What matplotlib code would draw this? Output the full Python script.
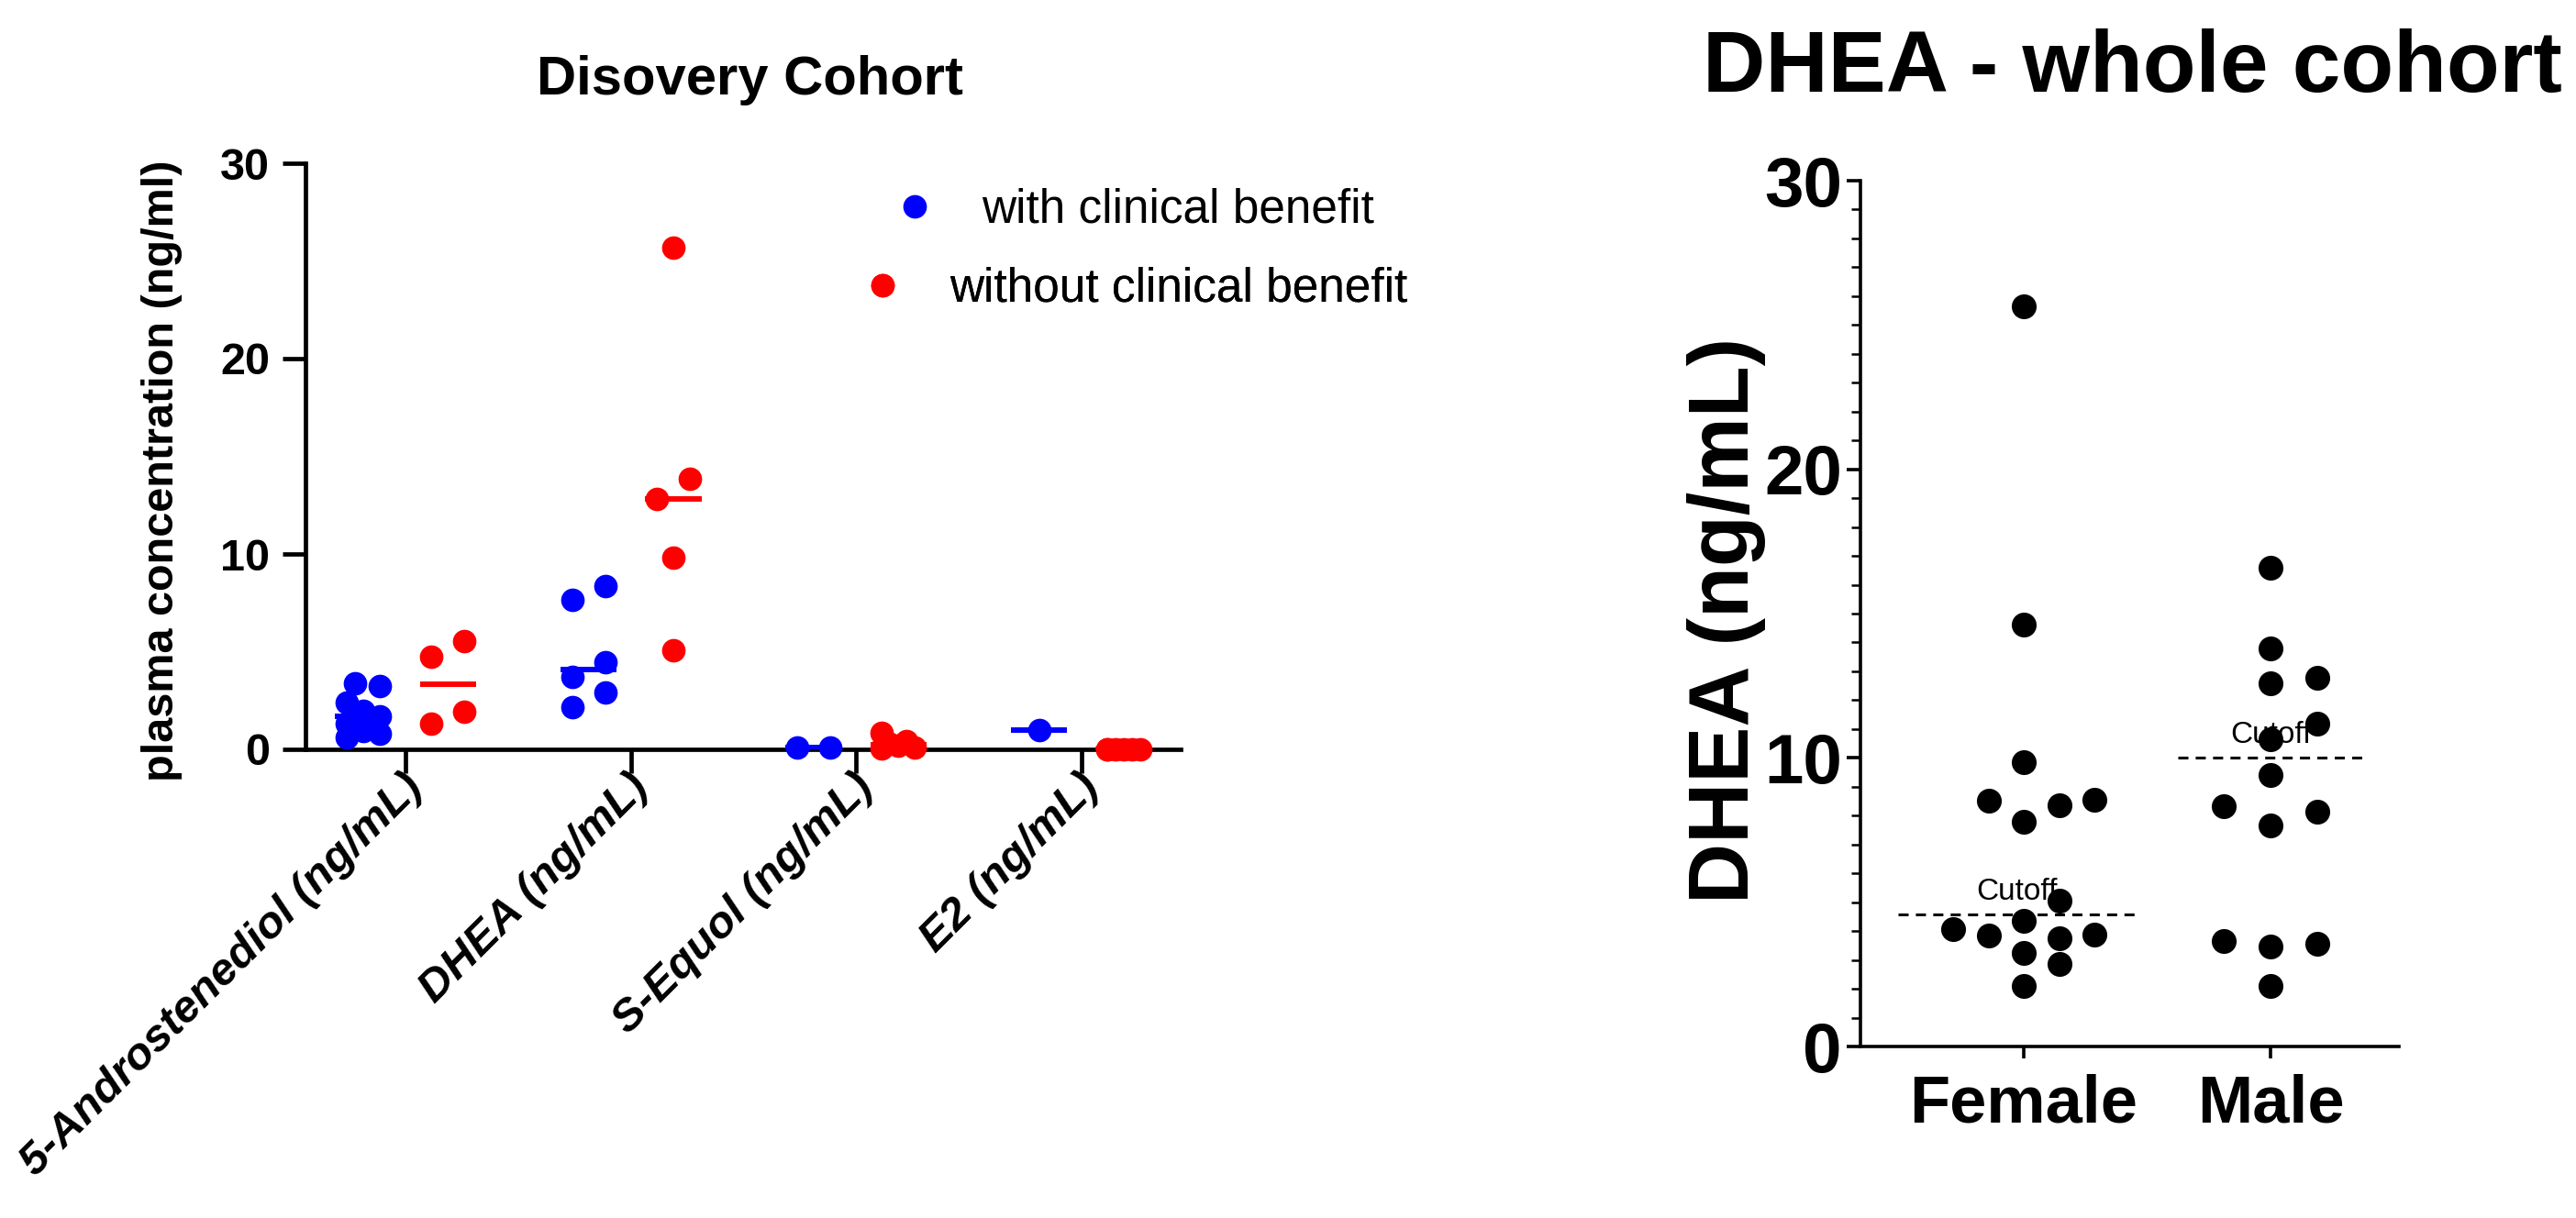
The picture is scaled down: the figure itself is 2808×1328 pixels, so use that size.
import matplotlib
matplotlib.use("Agg")
import matplotlib.pyplot as plt
import numpy as np
from matplotlib.lines import Line2D
from matplotlib.ticker import MultipleLocator
from matplotlib.transforms import ScaledTranslation

plt.rcParams['font.family'] = ['Liberation Sans', 'DejaVu Sans']

# ---------------- data ----------------
categories = ["5-Androstenediol (ng/mL)", "DHEA (ng/mL)", "S-Equol (ng/mL)", "E2 (ng/mL)"]
andro_with = [0.62, 0.78, 0.95, 1.3, 1.7, 1.95, 2.4, 3.25, 3.4]
andro_without = [1.31, 1.94, 4.75, 5.56]
dhea_with = [2.14, 2.91, 3.69, 4.44, 7.67, 8.34]
dhea_without = [5.06, 9.83, 12.83, 13.83, 25.66]
equol_with = [0.08, 0.08]
equol_without = [0.05, 0.1, 0.18, 0.28, 0.42, 0.85]
e2_with = [0.97]
e2_without = [0.02, 0.02, 0.02, 0.02, 0.02, 0.02]
with_benefit = [andro_with, dhea_with, equol_with, e2_with]
without_benefit = [andro_without, dhea_without, equol_without, e2_without]
legend_labels = ["with clinical benefit", "without clinical benefit"]

sex_groups = ["Female", "Male"]
dhea_female = [25.66, 14.61, 9.84, 8.52, 8.55, 8.36, 7.78, 5.06, 4.36, 3.74, 3.85,
               4.07, 3.87, 3.25, 2.86, 2.09]
dhea_male = [16.6, 13.80, 12.57, 12.79, 11.19, 10.66, 9.41, 8.33, 8.15, 7.65, 3.64,
             3.45, 3.56, 2.11]
cutoffs = [4.58, 10.0]
cutoff_label = "Cutoff"

# ---------------- figure ----------------
W, H, DPI = 2808, 1328, 100
fig = plt.figure(figsize=(W / DPI, H / DPI), dpi=DPI)
fig.patch.set_facecolor("white")


def rect(l, t, r, b):
    return [l / W, 1 - b / H, (r - l) / W, (b - t) / H]


def swarm(ax, values, lane_px, diam_px, candidates, center):
    """Prism-like horizontal spreading of overlapping points (returns x offsets in data units)."""
    values = np.asarray(values, float)
    t = ax.transData
    px_x = t.transform((1, 0))[0] - t.transform((0, 0))[0]
    px_y = t.transform((0, 1))[1] - t.transform((0, 0))[1]
    order = np.argsort(values, kind="stable")
    lanes = np.zeros(len(values))
    chains, cur = [], []
    for idx in order:
        if cur and (values[idx] - values[cur[-1]]) * px_y >= diam_px:
            chains.append(cur)
            cur = []
        cur.append(idx)
    if cur:
        chains.append(cur)
    for chain in chains:
        placed = []
        for idx in chain:
            y = values[idx] * px_y
            best, best_d = None, -1
            for c in candidates:
                dmin = min([np.hypot((c - l) * lane_px, y - yy) for l, yy in placed] or [1e9])
                if dmin >= diam_px:
                    best = c
                    break
                if dmin > best_d + 1e-9:
                    best, best_d = c, dmin
            lanes[idx] = best
            placed.append((best, y))
        if center:
            ls = lanes[chain]
            lanes[chain] = ls - (ls.min() + ls.max()) / 2
    return lanes * lane_px / px_x


BLUE, RED = "#0000FF", "#FF0000"

# ---------------- left panel ----------------
ax1 = fig.add_axes(rect(333, 178, 1287, 817))
ax1.set_xlim(-0.444, 3.44)
ax1.set_ylim(0, 30)
for s in ["top", "right"]:
    ax1.spines[s].set_visible(False)
for s in ["left", "bottom"]:
    ax1.spines[s].set_linewidth(3.4)

GROUP_OFF = 0.188
for i in range(len(categories)):
    for vals, col, side in [(with_benefit[i], BLUE, -1), (without_benefit[i], RED, 1)]:
        xc = i + side * GROUP_OFF
        offs = swarm(ax1, vals, 36, 25, [0, 1, 0.5, 0.25, 0.75], True)
        ax1.scatter(xc + offs, vals, s=18.5 ** 2, color=col, linewidths=0,
                    clip_on=False, zorder=3)
        ax1.hlines(np.median(vals), xc - 0.125, xc + 0.125, colors=col, lw=4.3, zorder=4)

ax1.set_yticks([0, 10, 20, 30])
ax1.tick_params(axis="y", length=18, width=3.4, pad=10, labelsize=35)
ax1.set_xticks(range(len(categories)))
ax1.set_xticklabels(categories, rotation=45, ha="right", va="top", fontsize=35.5,
                    fontweight="bold", fontstyle="italic")
ax1.tick_params(axis="x", length=19, width=3.4, pad=0)
for lab in ax1.get_yticklabels():
    lab.set_fontweight("bold")
for lab in ax1.get_xticklabels():
    lab.set_transform(lab.get_transform() +
                      ScaledTranslation(28 / DPI, 8 / DPI, fig.dpi_scale_trans))
ax1.set_ylabel("plasma concentration (ng/ml)", fontsize=35, fontweight="bold")
ax1.yaxis.set_label_coords(-0.1405, 0.475)

fig.text(817 / W, 1 - 103 / H, "Disovery Cohort", ha="center", va="baseline",
         fontsize=43, fontweight="bold")

for lab, col, yy in [(legend_labels[0], BLUE, 229), (legend_labels[1], RED, 315)]:
    h = Line2D([], [], marker="o", ls="none", color=col, markersize=18.5, markeredgewidth=0)
    leg = ax1.legend([h], [lab], loc="center", bbox_to_anchor=(1235 / W, 1 - yy / H),
                     bbox_transform=fig.transFigure, frameon=False, fontsize=37,
                     handlelength=1.0, handletextpad=0.92, borderpad=0, borderaxespad=0)
    ax1.add_artist(leg)

# ---------------- right panel ----------------
ax2 = fig.add_axes(rect(2028, 197, 2615, 1141))
ax2.set_xlim(-0.662, 1.52)
ax2.set_ylim(0, 30)
for s in ["top", "right"]:
    ax2.spines[s].set_visible(False)
for s in ["left", "bottom"]:
    ax2.spines[s].set_linewidth(2.6)

lane_px = [38.5, 51]
line_center = [-0.03, 0.0]
line_half = [0.478, 0.374]
for i, vals in enumerate([dhea_female, dhea_male]):
    offs = swarm(ax2, vals, lane_px[i], 26, [0, 1, -1, 2, -2], False)
    ax2.scatter(i + offs, vals, s=19.5 ** 2, color="black", linewidths=0,
                clip_on=False, zorder=3)
    xc = i + line_center[i]
    ax2.hlines(cutoffs[i], xc - line_half[i], xc + line_half[i], colors="black",
               linestyles=(0, (3.6, 2.6)), lw=2.2, zorder=2)
    ax2.annotate(cutoff_label, (xc, cutoffs[i]), xytext=(0, 11.5), textcoords="offset points",
                 ha="center", va="baseline", fontsize=24, zorder=1)

ax2.set_yticks([0, 10, 20, 30])
ax2.yaxis.set_minor_locator(MultipleLocator(1))
ax2.tick_params(axis="y", which="major", length=10.8, width=2.6, pad=3.6, labelsize=55)
ax2.tick_params(axis="y", which="minor", length=7.2, width=1.8)
ax2.set_xticks(range(len(sex_groups)))
ax2.set_xticklabels(sex_groups, fontsize=52, fontweight="bold")
ax2.tick_params(axis="x", length=9.4, width=2.6, pad=12)
for lab in ax2.get_yticklabels():
    lab.set_fontweight("bold")
ax2.set_ylabel("DHEA (ng/mL)", fontsize=66, fontweight="bold")
ax2.yaxis.set_label_coords(-0.176, 0.492)

fig.text(1856 / W, 1 - 100 / H, "DHEA - whole cohort", ha="left", va="baseline",
         fontsize=68, fontweight="bold")

fig.savefig("out.png", dpi=DPI, facecolor="white")
